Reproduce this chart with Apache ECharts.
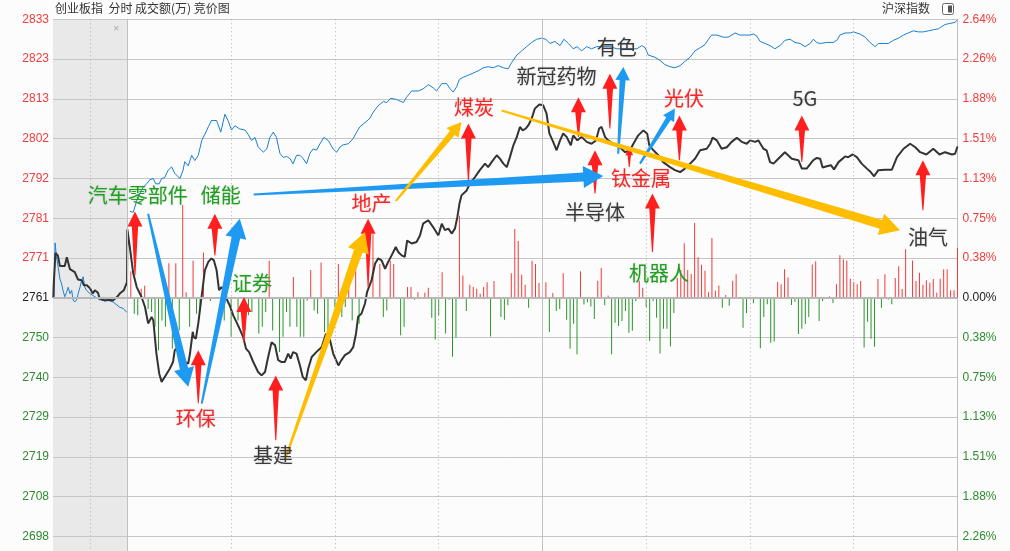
<!DOCTYPE html>
<html><head><meta charset="utf-8">
<script src="https://cdn.jsdelivr.net/npm/echarts@6/dist/echarts.min.js"></script>
<style>html,body{margin:0;padding:0;background:#fcfcfc}#c{width:1010px;height:551px}</style>
</head><body><div id="c"></div>
<script>
// ---- data ----
const BASE = 2761.0;          // previous close
const STEP = 10.41;           // index points per grid row
const leftLabels = ['2688','2698','2708','2719','2729','2740','2750','2761','2771','2781','2792','2802','2813','2823','2833']; // rows -7..7
const pctLabels  = ['2.64%','2.26%','1.88%','1.51%','1.13%','0.75%','0.38%','0.00%','0.38%','0.75%','1.13%','1.51%','1.88%','2.26%','2.64%'];
const xLines = [-10.75, 0, 30, 60, 90, 120, 150, 180, 210];
const solidXLines = [0, 120];
const auctionStart = -21.5, sessionEnd = 240;

// 创业板指 (minute, index)
const indexLine = [
[-21.4,2761.0],[-21.3,2764.3],[-20.8,2772.7],[-20.1,2772.1],[-19.5,2769.3],[-18.1,2769.3],[-17.5,2771.6],[-16.6,2768.5],[-15.2,2767.7],[-14.3,2765.8],[-13.2,2765.6],[-12.6,2764.3],[-11.7,2764.3],[-10.8,2763.5],[-10.0,2762.1],[-9.4,2763.0],[-8.5,2762.3],[-8.0,2760.8],[-6.5,2760.3],[-5.1,2760.5],[-4.2,2760.3],[-3.0,2761.2],[-2.2,2762.1],[-1.0,2763.0],[-0.1,2765.1],
[0,2778.9],[0.7,2774.3],[1.7,2767.4],[2.7,2763.8],[4.1,2761.2],[5.1,2758.6],[6.0,2754.3],[6.5,2755.1],[7.0,2756.0],[7.5,2755.1],[8.4,2746.4],[9.2,2741.2],[9.9,2739.0],[10.8,2740.3],[12.3,2742.5],[13.2,2744.2],[13.7,2747.3],[15.2,2748.6],[16.6,2744.2],[17.6,2743.8],[18.1,2746.4],[18.9,2752.1],[19.2,2750.7],[19.8,2750.3],[20.5,2754.3],[21.2,2759.5],[21.7,2763.0],[22.4,2768.2],[23.4,2770.4],[24.3,2771.3],[25.0,2770.8],[25.8,2768.2],[26.5,2763.0],[27.2,2763.8],[28.2,2762.5],[28.9,2760.3],[29.6,2759.0],[30.6,2756.4],[32.0,2753.8],[33.5,2750.7],[34.3,2747.7],[35.2,2746.8],[36.4,2744.2],[37.8,2741.6],[38.8,2740.7],[39.8,2741.6],[40.7,2745.5],[41.7,2749.4],[42.7,2748.6],[43.6,2744.7],[44.6,2744.2],[45.5,2744.2],[46.5,2746.4],[47.2,2745.1],[47.9,2746.8],[48.9,2746.4],[49.9,2743.3],[50.7,2740.3],[51.6,2739.4],[52.3,2742.5],[53.3,2745.5],[54.2,2746.4],[55.2,2747.3],[56.2,2748.1],[57.4,2751.6],[58.6,2749.9],[59.5,2746.4],[61.0,2743.3],[61.9,2744.7],[62.9,2746.0],[64.3,2746.8],[65.3,2748.1],[66.1,2751.6],[66.7,2756.0],[67.7,2756.9],[68.7,2759.5],[69.3,2762.5],[70.6,2765.6],[71.6,2769.9],[72.5,2771.3],[73.5,2770.8],[74.5,2768.6],[75.4,2770.4],[76.4,2772.1],[77.6,2774.3],[78.3,2773.0],[79.3,2772.1],[80.2,2771.7],[80.9,2776.0],[82.2,2775.2],[83.6,2775.6],[84.6,2777.3],[85.5,2780.4],[87.0,2781.3],[88.4,2779.5],[89.9,2777.3],[90.9,2780.4],[91.8,2778.7],[92.8,2779.1],[93.8,2777.8],[94.7,2779.1],[95.4,2782.1],[96.0,2785.6],[96.6,2787.8],[98.1,2789.1],[99.0,2790.9],[100.5,2792.6],[101.9,2794.4],[103.4,2796.1],[104.3,2795.2],[105.3,2796.5],[106.8,2798.3],[107.7,2797.4],[108.7,2796.1],[109.7,2795.2],[110.6,2797.8],[111.6,2800.9],[112.6,2803.1],[113.5,2805.7],[114.3,2804.8],[115.2,2805.3],[115.9,2806.1],[116.9,2807.9],[117.8,2810.5],[119.1,2811.6],[120.2,2811.4],[121.2,2809.2],[122.0,2804.0],[123.1,2801.8],[124.1,2799.6],[125.1,2802.2],[126.0,2804.0],[127.0,2803.1],[128.2,2800.9],[128.9,2803.5],[130.1,2802.2],[131.3,2803.1],[132.8,2801.8],[134.2,2801.3],[135.5,2802.2],[136.4,2805.3],[137.1,2805.7],[138.1,2803.1],[139.0,2802.2],[140.5,2801.3],[142.4,2800.4],[143.9,2799.1],[145.3,2799.6],[146.3,2801.3],[147.7,2803.5],[149.2,2804.8],[150.3,2803.9],[150.9,2800.9],[152.1,2799.6],[153.5,2798.3],[154.9,2796.5],[156.9,2795.2],[158.3,2794.4],[159.8,2793.9],[161.2,2794.8],[162.7,2796.1],[164.1,2797.4],[165.6,2799.6],[167.5,2800.0],[168.5,2801.3],[169.2,2802.9],[170.4,2802.2],[171.8,2800.0],[173.3,2800.4],[174.7,2801.8],[176.2,2802.9],[177.6,2801.8],[179.1,2801.3],[180.0,2802.2],[181.5,2801.8],[182.4,2802.2],[183.9,2800.0],[184.8,2799.6],[185.8,2796.5],[186.8,2796.1],[188.2,2797.4],[190.1,2799.1],[192.1,2797.4],[194.0,2797.0],[195.0,2794.8],[196.4,2794.8],[198.3,2797.0],[199.3,2797.6],[200.3,2797.4],[201.0,2795.1],[202.2,2795.4],[203.4,2795.7],[204.3,2794.6],[205.6,2796.5],[207.5,2798.0],[208.4,2797.8],[209.7,2798.5],[210.9,2797.8],[212.3,2796.1],[213.8,2794.8],[214.9,2793.9],[215.9,2792.8],[217.1,2794.4],[219.1,2794.5],[221.0,2794.5],[222.5,2797.8],[224.4,2800.0],[226.3,2801.3],[227.8,2800.4],[229.2,2799.1],[231.0,2798.5],[233.0,2800.0],[234.8,2798.5],[236.4,2799.1],[238.4,2798.5],[239.3,2798.7],[240,2800.6]
];

// 沪深指数 (minute, % change)
const refAuction = [[-21.2,0.00],[-20.9,0.52],[-20.5,0.39],[-20.0,0.29],[-19.5,0.18],[-19.0,0.13],[-18.6,0.07],[-18.1,0.01],[-17.6,0.05],[-17.1,0.10],[-16.6,0.04],[-16.1,0.07],[-15.7,-0.02],[-15.2,-0.04],[-14.7,-0.02],[-14.2,0.04],[-13.7,0.10],[-13.2,0.17],[-12.8,0.20],[-12.3,0.10],[-11.8,0.07],[-10.8,0.04],[-9.4,0.01],[-8.0,-0.02],[-6.0,-0.02],[-4.1,-0.04],[-2.2,-0.09],[-1.2,-0.10],[-0.1,-0.14]];
const refMain = [[0.7,0.82],[1.7,0.81],[2.7,0.92],[3.6,0.99],[4.6,1.05],[5.6,1.08],[6.5,1.12],[7.5,1.13],[8.2,1.08],[9.2,1.08],[9.9,1.13],[10.8,1.14],[11.8,1.21],[12.8,1.24],[13.7,1.18],[15.2,1.13],[16.1,1.21],[16.6,1.29],[17.6,1.25],[18.6,1.35],[19.5,1.30],[20.5,1.35],[21.5,1.49],[22.4,1.55],[23.4,1.62],[24.3,1.68],[25.8,1.68],[27.0,1.57],[28.2,1.74],[29.1,1.68],[30.1,1.59],[31.1,1.63],[32.5,1.60],[34.0,1.59],[34.9,1.55],[35.9,1.49],[36.9,1.52],[37.8,1.43],[39.3,1.38],[40.3,1.41],[41.2,1.52],[42.2,1.57],[43.1,1.52],[44.1,1.37],[45.1,1.33],[46.0,1.34],[47.0,1.32],[47.9,1.27],[48.9,1.35],[49.9,1.35],[50.8,1.32],[51.8,1.27],[52.8,1.37],[53.7,1.41],[54.7,1.40],[55.7,1.46],[56.8,1.52],[58.1,1.49],[59.5,1.41],[60.5,1.38],[61.5,1.43],[62.4,1.45],[63.9,1.46],[65.3,1.51],[66.3,1.57],[67.2,1.62],[68.7,1.66],[70.1,1.70],[71.1,1.76],[72.5,1.82],[74.0,1.86],[75.0,1.85],[76.1,1.89],[77.8,1.88],[79.8,1.85],[80.7,1.90],[82.2,1.96],[84.1,1.96],[85.5,1.98],[87.0,2.02],[88.4,1.99],[89.4,1.96],[90.9,2.03],[92.3,2.03],[93.3,1.98],[94.2,1.95],[95.2,2.00],[96.0,2.07],[97.1,2.09],[98.6,2.11],[100.0,2.13],[101.4,2.15],[102.9,2.18],[104.3,2.19],[105.8,2.18],[107.2,2.20],[108.7,2.18],[110.1,2.17],[111.1,2.23],[112.6,2.30],[114.0,2.34],[115.4,2.38],[116.9,2.42],[118.3,2.45],[119.8,2.46],[121.0,2.45],[122.2,2.41],[123.6,2.43],[125.1,2.39],[126.2,2.45],[127.5,2.41],[128.9,2.36],[130.1,2.38],[131.3,2.34],[132.8,2.38],[134.2,2.36],[135.7,2.38],[137.6,2.38],[139.5,2.38],[141.5,2.36],[144.4,2.36],[147.3,2.36],[148.7,2.39],[149.7,2.37],[150.6,2.30],[152.5,2.28],[154.0,2.25],[155.4,2.21],[156.9,2.19],[158.3,2.18],[159.8,2.20],[161.2,2.24],[162.7,2.28],[164.1,2.34],[165.6,2.37],[167.0,2.40],[168.0,2.45],[168.9,2.49],[170.4,2.49],[172.3,2.47],[173.7,2.47],[175.7,2.51],[177.1,2.49],[178.6,2.49],[180.0,2.49],[181.0,2.50],[182.0,2.48],[182.9,2.43],[184.4,2.41],[185.8,2.39],[187.2,2.36],[188.7,2.39],[190.1,2.44],[191.6,2.45],[193.0,2.42],[194.5,2.41],[195.9,2.38],[197.4,2.41],[198.3,2.45],[199.3,2.42],[200.3,2.41],[202.2,2.42],[204.1,2.42],[205.1,2.44],[206.0,2.49],[207.5,2.51],[209.0,2.51],[209.9,2.52],[211.8,2.50],[213.3,2.47],[214.7,2.42],[216.2,2.38],[217.1,2.41],[218.6,2.41],[220.0,2.41],[221.5,2.44],[222.9,2.46],[224.4,2.49],[225.8,2.51],[227.2,2.53],[228.7,2.52],[230.1,2.52],[231.6,2.53],[233.0,2.54],[234.5,2.55],[235.4,2.57],[236.4,2.59],[237.8,2.60],[239.3,2.61],[239.8,2.63]];

// 成交额 (minute, signed amount; + up-tick, - down-tick)
const volume = [[1,67],[2,-40],[3,-44],[4,23],[5,30],[6,-28],[7,-36],[8,-73],[9,-132],[10,-57],[11,-73],[12,87],[13,-128],[14,87],[15,-82],[16,233],[17,14],[18,-73],[19,93],[20,-40],[21,-32],[22,114],[24,-8],[27,-40],[28,-57],[30,-98],[32,-57],[34,-82],[35,-44],[36,-36],[38,-90],[39,-73],[40,-36],[41,93],[42,-82],[44,-136],[45,-98],[46,-36],[47,-73],[48,52],[49,-73],[50,-98],[51,-98],[52,-7],[53,70],[54,-32],[55,-40],[56,89],[57,-86],[58,-115],[60,-23],[61,85],[62,-48],[63,-23],[64,27],[65,-57],[66,85],[67,-65],[71,160],[73,85],[74,-48],[75,-32],[76,93],[77,85],[79,-94],[80,-73],[81,27],[82,27],[83,-5],[84,14],[86,13],[87,25],[88,-50],[89,-105],[90,-44],[91,64],[92,-90],[93,-5],[94,-148],[95,-100],[96,206],[97,56],[98,-33],[99,33],[100,27],[101,23],[102,10],[103,27],[104,39],[105,-97],[106,42],[108,-48],[109,-55],[110,-19],[111,62],[112,173],[113,143],[114,58],[115,33],[116,-25],[117,93],[118,85],[119,37],[120,6],[121,39],[122,-86],[123,12],[124,-33],[125,-28],[126,62],[127,-55],[128,-128],[129,-65],[130,-142],[131,67],[132,-17],[133,-11],[134,-22],[135,-53],[136,43],[137,75],[138,-19],[139,6],[140,-142],[141,-63],[142,-71],[143,-58],[144,-33],[145,-88],[146,-83],[147,-8],[148,43],[149,25],[150,-23],[151,-108],[152,-8],[153,-50],[154,-140],[155,-78],[156,-78],[157,-122],[158,-38],[159,50],[160,70],[161,137],[162,70],[163,60],[164,188],[165,102],[166,83],[167,68],[168,14],[169,150],[170,18],[171,31],[172,-25],[173,7],[174,-20],[175,43],[176,59],[177,-3],[178,-75],[179,-38],[181,-14],[183,-127],[184,-48],[185,-16],[186,-113],[187,-110],[188,40],[189,34],[190,72],[191,51],[192,-18],[193,-10],[194,-91],[195,-78],[196,-66],[197,-48],[198,84],[199,92],[200,-58],[201,-8],[203,4],[204,-13],[205,34],[206,107],[207,97],[208,94],[209,48],[210,40],[211,34],[212,42],[213,-125],[214,-60],[215,-103],[216,-123],[217,47],[218,-25],[219,59],[220,-4],[221,-16],[222,50],[223,79],[224,22],[225,122],[226,-3],[227,94],[228,42],[229,63],[230,33],[231,44],[232,38],[233,47],[234,13],[235,48],[236,72],[237,72],[238,19],[239,19],[240,126]];

// annotations: arrows [fromMinute, fromIndex, toMinute, toIndex]
const redArrows = [[2.2,2766.9,2.2,2783.6],[25.3,2772.1,25.3,2783.0],[33.7,2749.4,33.7,2761.2],[20.5,2733.4,20.5,2747.3],[42.9,2723.7,42.9,2740.7],[69.6,2763.8,69.6,2781.7],[98.6,2791.7,98.6,2806.6],[130.4,2803.1,130.4,2813.5],[139.5,2805.3,139.5,2819.6],[135.2,2788.3,135.2,2799.6],[145.1,2795.2,145.1,2800.4],[151.8,2773.0,151.8,2788.3],[159.6,2797.0,159.6,2808.7],[195.0,2796.5,195.0,2808.7],[230.0,2783.9,230.0,2797.0]];
const blueArrows = [[6.0,2783.0,17.6,2737.7],[21.5,2733.3,32.5,2781.7],[36.5,2788.0,137.6,2792.9],[141.9,2798.7,143.4,2821.4],[148.2,2796.1,158.3,2810.5]];
const yellowArrows = [[45.5,2718.5,68.7,2778.2],[77.6,2786.3,96.6,2807.0],[108.2,2810.0,223.4,2778.7]];
// annotation texts [text, minute, index]
const greenTexts = [['汽车零部件',3.0,2787.8],['储能',27.0,2787.8],['证券',36.0,2764.7],['机器人',153.7,2767.3]];
const redTexts = [['环保',19.8,2729.5],['地产',70.6,2785.6],['煤炭',100.2,2810.9],['光伏',160.9,2813.1],['钛金属',148.5,2792.2]];
const darkTexts = [['基建',42.1,2719.8],['新冠药物',124.1,2818.8],['有色',141.5,2826.6],['半导体',135.2,2783.4],['5G',195.9,2813.1],['油气',231.5,2776.9]];

// ---- drawing ----
const toU = p => (p - BASE) / STEP;
const pctU = pct => pct / (STEP / BASE * 100);
const RED = '#f03c3c', GREEN = '#2e8b2e';
const chart = echarts.init(document.getElementById('c'));

function arrowPoly(x0, y0, x1, y1, headLen, half, w0, w1) {
  const dx = x1 - x0, dy = y1 - y0, L = Math.hypot(dx, dy);
  const ux = dx / L, uy = dy / L, nx = -uy, ny = ux;
  const bx = x1 - ux * headLen, by = y1 - uy * headLen;
  return [[x0 + nx * w0 / 2, y0 + ny * w0 / 2], [bx + nx * w1 / 2, by + ny * w1 / 2], [bx + nx * half, by + ny * half], [x1, y1],
          [bx - nx * half, by - ny * half], [bx - nx * w1 / 2, by - ny * w1 / 2], [x0 - nx * w0 / 2, y0 - ny * w0 / 2]];
}
function arrowSeries(list, color, kind) {
  return {
    type: 'custom', z: 6, silent: true, animation: false,
    data: list.map(a => [a[0], toU(a[1]), a[2], toU(a[3])]),
    renderItem(params, api) {
      const p0 = api.coord([api.value(0), api.value(1)]);
      const p1 = api.coord([api.value(2), api.value(3)]);
      const L = Math.hypot(p1[0] - p0[0], p1[1] - p0[1]);
      let head, half, w0, w1;
      if (kind === 'small') { head = Math.min(15, L * 0.4); half = head * 0.5; w0 = 1; w1 = head * 0.42; }
      else { head = Math.min(20, 8 + L * 0.06); half = head * 0.55; w0 = 2; w1 = head * 0.45; }
      return { type: 'polygon', shape: { points: arrowPoly(p0[0], p0[1], p1[0], p1[1], head, half, w0, w1) }, style: { fill: color } };
    }
  };
}
function textSeries(list, color) {
  return {
    type: 'custom', z: 8, silent: true, animation: false,
    data: list.map(t => [t[1], toU(t[2])]),
    renderItem(params, api) {
      const p = api.coord([api.value(0), api.value(1)]);
      return { type: 'text', x: p[0], y: p[1], style: { text: list[params.dataIndex][0], fill: color, font: '20px "Noto Sans CJK SC"', align: 'center', verticalAlign: 'middle', textShadowColor: 'rgba(120,120,120,0.35)', textShadowBlur: 2 } };
    }
  };
}
const labelColor = v => v > 0 ? RED : (v < 0 ? GREEN : '#222');

const option = {
  animation: false,
  backgroundColor: '#fcfcfc',
  grid: { left: 53, right: 52.5, top: 19.3, height: 557, outerBoundsMode: 'none', containLabel: false },
  xAxis: { type: 'value', min: auctionStart, max: sessionEnd, axisLine: { show: false }, axisTick: { show: false }, axisLabel: { show: false }, splitLine: { show: false } },
  yAxis: [
    { type: 'value', min: -7, max: 7, interval: 1, position: 'left',
      axisLine: { show: true, lineStyle: { color: '#bdbdbd' } }, axisTick: { show: false },
      axisLabel: { margin: 4, fontFamily: 'Liberation Sans', fontSize: 12, formatter: v => leftLabels[v + 7], color: v => labelColor(v) },
      splitLine: { show: true, lineStyle: { color: '#c6c6c6', width: 1 } } },
    { type: 'value', min: -7, max: 7, interval: 1, position: 'right',
      axisLine: { show: true, lineStyle: { color: '#bdbdbd' } }, axisTick: { show: false },
      axisLabel: { margin: 5, fontFamily: 'Liberation Sans', fontSize: 12, formatter: v => pctLabels[v < 0 ? -v + 7 : 7 - v] , color: v => labelColor(v) },
      splitLine: { show: false } },
    { type: 'value', min: -700, max: 700, show: false, splitLine: { show: false } }
  ],
  graphic: [
    { type: 'text', left: 55, top: 2, style: { text: '创业板指  分时 成交额(万) 竞价图', fill: '#333', font: '12px "Noto Sans CJK SC"' } },
    { type: 'text', left: 882, top: 2, style: { text: '沪深指数', fill: '#333', font: '12px "Noto Sans CJK SC"' } },
    { type: 'rect', shape: { x: 942.5, y: 3.5, width: 11, height: 11, r: 2 }, style: { fill: '#fff', stroke: '#666', lineWidth: 1 } },
    { type: 'rect', shape: { x: 948, y: 5.5, width: 4, height: 7 }, style: { fill: '#555' } },
    { type: 'text', left: 113, top: 23, style: { text: '×', fill: '#aaa', font: '11px "Liberation Sans"' } }
  ],
  series: [
    { type: 'custom', z: -1, silent: true, data: [[auctionStart, 0]],
      renderItem(params, api) {
        const a = api.coord([auctionStart, 7]), b = api.coord([0, -7]);
        return { type: 'rect', shape: { x: a[0], y: a[1], width: b[0] - a[0], height: b[1] - a[1] }, style: { fill: '#e9e9e9' } };
      } },
    { type: 'bar', yAxisIndex: 2, barWidth: 1, silent: true,
      data: volume,
      itemStyle: { color: p => p.value[1] >= 0 ? '#f23a3a' : '#2a962a' },
      markLine: { silent: true, symbol: ['none', 'none'], label: { show: false }, animation: false,
        data: xLines.map(v => ({ xAxis: v, lineStyle: solidXLines.includes(v) ? { type: 'solid', color: '#c0c0c0', width: 1 } : { type: [1, 3], color: '#b0b0b0', width: 1 } }))
          .concat([{ yAxis: 0, lineStyle: { type: 'solid', color: '#b8b8b8', width: 2 } }]) } },
    { type: 'line', showSymbol: false, silent: true, data: refAuction.map(d => [d[0], pctU(d[1])]), lineStyle: { color: '#1a7fd4', width: 1 } },
    { type: 'line', showSymbol: false, silent: true, data: refMain.map(d => [d[0], pctU(d[1])]), lineStyle: { color: '#1a7fd4', width: 1 } },
    { type: 'line', showSymbol: false, silent: true, data: indexLine.map(d => [d[0], toU(d[1])]), lineStyle: { color: '#333', width: 2 } },
    arrowSeries(redArrows, '#ff1f1f', 'small'),
    arrowSeries(blueArrows, '#1e9af2', 'big'),
    arrowSeries(yellowArrows, '#ffbd00', 'big'),
    textSeries(greenTexts, '#1fa01f'),
    textSeries(redTexts, '#ff2424'),
    textSeries(darkTexts, '#3a3a3a')
  ]
};
chart.setOption(option);
</script>
</body></html>
